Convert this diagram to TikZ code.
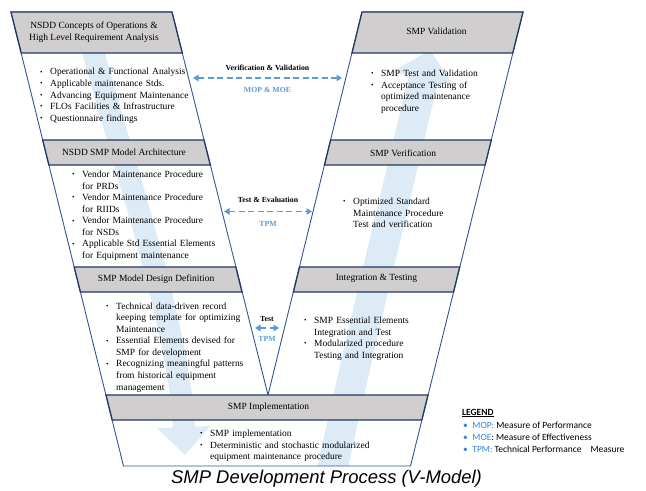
\documentclass[tikz,border=0pt]{standalone}
\usepackage{fontspec}
\setmainfont{Liberation Serif}
\newfontfamily\legendfont{Carlito}
\newfontfamily\captionfont{Liberation Sans}
\usetikzlibrary{arrows.meta}

\definecolor{headgray}{HTML}{D0CECE}
\definecolor{headline}{HTML}{1F3864}
\definecolor{armline}{HTML}{2F5597}
\definecolor{flowblue}{HTML}{DDEBF7}
\definecolor{linkblue}{HTML}{5B9BD5}
\definecolor{keyblue}{HTML}{2E86DE}

% one bullet point, lines broken by hand with \newline
\newcommand{\bitem}[1]{\par\noindent\hangindent=10bp\hangafter=1%
  \makebox[10bp][l]{\raisebox{.15ex}{\scalebox{.75}{\textbullet}}}#1\par}

\begin{document}
\begin{tikzpicture}[x=1bp, y=-1bp,
    head/.style={fill=headgray, draw=headline, line width=1.3bp},
    headtext/.style={inner sep=0, align=center, font=\rmfamily\fontsize{9.5}{11.6}\selectfont},
    body/.style={anchor=north west, inner sep=0, text width=175bp, align=left,
      font=\rmfamily\fontsize{9.5}{11.6}\selectfont},
    link/.style={draw=linkblue, line width=1.8bp, dash pattern=on 6bp off 3.5bp,
      {Triangle[length=5.5bp, width=6.5bp]}-{Triangle[length=5.5bp, width=6.5bp]}},
    linktext/.style={inner sep=0, font=\rmfamily\fontsize{7.8}{9}\selectfont\bfseries},
    keytext/.style={anchor=west, inner sep=0, font=\legendfont\fontsize{9.5}{12}\selectfont}]
  \useasboundingbox (0,0) rectangle (646,491);

  % the V outline
  \coordinate (vtl) at (11,12);
  \coordinate (vtm) at (172,12);
  \coordinate (vtip) at (268,395);
  \coordinate (vtn) at (362,12);
  \coordinate (vtr) at (523,12);
  \coordinate (vbr) at (410.5,466);
  \coordinate (vbl) at (123.5,466);

  % flow arrows behind the boxes
  \begin{scope}
    \clip (vtl) -- (vtm) -- (vtip) -- (vtn) -- (vtr) -- (vbr) -- (vbl) -- cycle;
    \draw [flowblue, line width=22bp, -{Triangle[length=28bp, width=52bp]}]
      (90,40) .. controls (125,170) and (180,330) .. (185,455);
    \draw [flowblue, line width=30bp, -{Triangle[length=30bp, width=62bp]}]
      (330,480) .. controls (360,340) and (395,200) .. (430,50);
  \end{scope}

  \draw [armline, line width=.9bp] (vtl) -- (vtm) -- (vtip) -- (vtn) -- (vtr) -- (vbr) -- (vbl) -- cycle;

  % left arm
  \filldraw [head] (11,12) -- (172,12) -- (182.3,53) -- (21.2,53) -- cycle;
  \node [headtext] (conops) at (94,32) {NSDD Concepts of Operations \&\\High Level Requirement Analysis};
  \node [body] (conopsList) at (40,63.2) {%
    \bitem{Operational \& Functional Analysis}
    \bitem{Applicable maintenance Stds.}
    \bitem{Advancing Equipment Maintenance}
    \bitem{FLOs Facilities \& Infrastructure}
    \bitem{Questionnaire findings}};

  \filldraw [head] (42.7,140) -- (204,140) -- (210.3,165) -- (48.9,165) -- cycle;
  \node [headtext] (arch) at (124,152) {NSDD SMP Model Architecture};
  \node [body] (archList) at (72,165.7) {%
    \bitem{Vendor Maintenance Procedure\newline for PRDs}
    \bitem{Vendor Maintenance Procedure\newline for RIIDs}
    \bitem{Vendor Maintenance Procedure\newline for NSDs}
    \bitem{Applicable Std Essential Elements\newline for Equipment maintenance}};

  \filldraw [head] (74.2,267) -- (235.8,267) -- (242,292) -- (80.4,292) -- cycle;
  \node [headtext] (design) at (156,279.5) {SMP Model Design Definition};
  \node [body] (designList) at (106,297.4) {%
    \bitem{Technical data-driven record\newline keeping template for optimizing\newline Maintenance}
    \bitem{Essential Elements devised for\newline SMP for development}
    \bitem{Recognizing meaningful patterns\newline from historical equipment\newline management}};

  % right arm
  \filldraw [head] (362,12) -- (523,12) -- (512.8,53) -- (352,53) -- cycle;
  \node [headtext] (valid) at (436.5,31) {SMP Validation};
  \node [body] (validList) at (371,64.7) {%
    \bitem{SMP Test and Validation}
    \bitem{Acceptance Testing of\newline optimized maintenance\newline procedure}};

  \filldraw [head] (330.6,140) -- (491.3,140) -- (485.1,165) -- (324.5,165) -- cycle;
  \node [headtext] (verif) at (403,153) {SMP Verification};
  \node [body] (verifList) at (343,192.7) {%
    \bitem{Optimized Standard\newline Maintenance Procedure\newline Test and verification}};

  \filldraw [head] (299.5,267) -- (459.7,267) -- (453.5,292) -- (293.4,292) -- cycle;
  \node [headtext] (integ) at (376.5,278) {Integration \& Testing};
  \node [body] (integList) at (304,311.7) {%
    \bitem{SMP Essential Elements\newline Integration and Test}
    \bitem{Modularized procedure\newline Testing and Integration}};

  % bottom
  \filldraw [head] (106,395) -- (428,395) -- (421.8,420) -- (112.2,420) -- cycle;
  \node [headtext] (impl) at (268.5,407) {SMP Implementation};
  \node [body, text width=200bp] (implList) at (200,424.7) {%
    \bitem{SMP implementation}
    \bitem{Deterministic and stochastic modularized\newline equipment maintenance procedure}};

  % links across the V
  \coordinate (vvl) at (193,78);
  \coordinate (vvr) at (342,78);
  \coordinate (tel) at (224,211.5);
  \coordinate (ter) at (312,211.5);
  \coordinate (tl) at (255,328);
  \coordinate (tr) at (279,328);

  \draw [link] (vvl) to node [linktext, above=6.3bp] (vvName) {Verification \& Validation}
    node [linktext, below=8.3bp, text=linkblue] (vvMeas) {MOP \& MOE} (vvr);
  \draw [link] (tel) to node [linktext, above=8.3bp] (teName) {Test \& Evaluation}
    node [linktext, below=8.6bp, text=linkblue] (teMeas) {TPM} (ter);
  \draw [link] (tl) to node [linktext, above=5.3bp] (tName) {Test}
    node [linktext, below=7.3bp, text=linkblue] (tMeas) {TPM} (tr);

  % legend
  \node [keytext] (legend) at (462,413) {\underline{\textbf{LEGEND}}};
  \node [keytext] (keyMop) at (463,425) {\textcolor{keyblue}{\textbullet}\hspace{4.5bp}\textcolor{keyblue}{MOP:} Measure of Performance};
  \node [keytext] (keyMoe) at (463,437) {\textcolor{keyblue}{\textbullet}\hspace{4.5bp}\textcolor{keyblue}{MOE}: Measure of Effectiveness};
  \node [keytext] (keyTpm) at (463,449.5) {\textcolor{keyblue}{\textbullet}\hspace{4.5bp}\textcolor{keyblue}{TPM:} Technical Performance\hspace{9bp}Measure};

  \node [inner sep=0, font=\captionfont\itshape\fontsize{18.5}{20}\selectfont] (title) at (326.5,478.5) {SMP Development Process (V-Model)};
\end{tikzpicture}
\end{document}
